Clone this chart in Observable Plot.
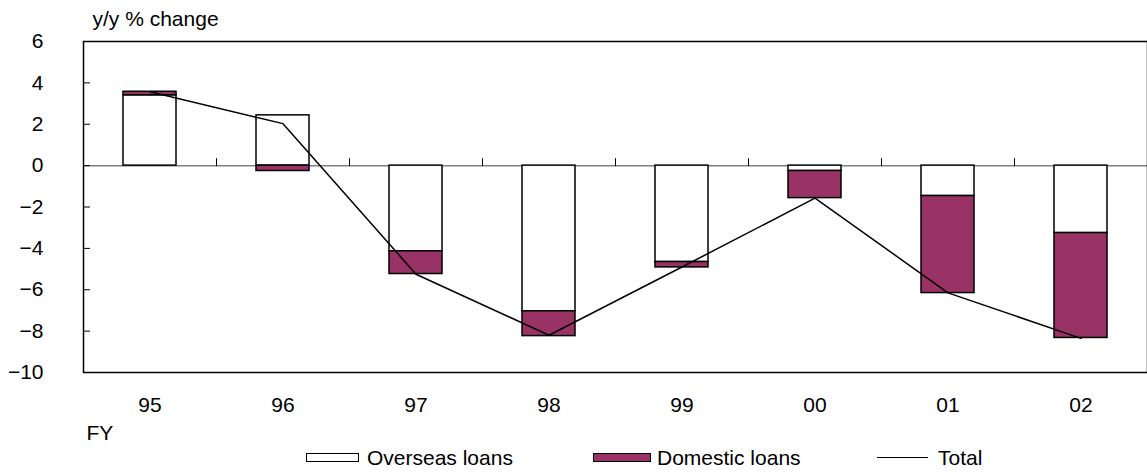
<!DOCTYPE html>
<html>
<head>
<meta charset="utf-8">
<script src="https://cdn.jsdelivr.net/npm/d3@7"></script>
<script src="https://cdn.jsdelivr.net/npm/@observablehq/plot@0.6"></script>
<style>
  html, body { margin: 0; padding: 0; background: #fff; }
  #wrap { position: relative; width: 1147px; height: 472px; font-family: "Liberation Sans", Arial, sans-serif; font-size: 21px; color: #000; }
  .lg { position: absolute; line-height: 21px; white-space: nowrap; }
  .box { position: absolute; box-sizing: border-box; border: 1.5px solid #000; }
  .ln { position: absolute; height: 0; border-top: 1.5px solid #000; }
</style>
</head>
<body>
<div id="wrap"></div>
<script>
const years = ["95", "96", "97", "98", "99", "00", "01", "02"];
const overseas = [3.40, 2.43, -4.14, -7.04, -4.66, -0.26, -1.47, -3.26];
const domestic = [0.17, -0.26, -1.10, -1.20, -0.26, -1.31, -4.69, -5.07];
const total = [3.57, 2.03, -5.25, -8.20, -4.90, -1.57, -6.15, -8.35];
const yTicks = [-10, -8, -6, -4, -2, 0, 2, 4, 6];
const seriesNames = ["Overseas loans", "Domestic loans"];
const seriesColors = ["#ffffff", "#993366"];

const rows = [];
years.forEach((y, i) => rows.push({year: y, series: seriesNames[0], value: overseas[i]}));
years.forEach((y, i) => rows.push({year: y, series: seriesNames[1], value: domestic[i]}));
const totals = years.map((y, i) => ({year: y, value: total[i]}));

const W = 1147, H = 446, mL = 83, mR = 0, mT = 41, mB = 74;
const step = (W - mL - mR) / years.length;
const fmt = d => (d < 0 ? "\u2212" + Math.abs(d) : String(d));
const upTick = {draw(ctx, l) { ctx.moveTo(0, 0); ctx.lineTo(0, -l); }};

const chart = Plot.plot({
  width: W, height: H,
  marginLeft: mL, marginRight: mR, marginTop: mT, marginBottom: mB,
  style: {fontFamily: "Liberation Sans, Arial, sans-serif", fontSize: "21px", color: "#000", background: "#fff", overflow: "visible"},
  x: {domain: years, paddingInner: 0.6, paddingOuter: 0.3, label: null},
  y: {domain: [-10, 6], label: null},
  color: {domain: seriesNames, range: seriesColors},
  marks: [
    Plot.ruleY([0], {stroke: "#808080", strokeWidth: 1.5}),
    Plot.barY(rows, Plot.stackY({x: "year", y: "value", fill: "series", stroke: "#000", strokeWidth: 1.5})),
    Plot.lineY(totals, {x: "year", y: "value", stroke: "#000", strokeWidth: 1.5}),
    Plot.vector(years.slice(1), {x: d => d, y: () => 0, length: 7, rotate: 0, anchor: "start", shape: upTick, stroke: "#000", strokeWidth: 1, dx: -step / 2}),
    Plot.frame({stroke: "#000", strokeWidth: 1.5}),
    Plot.axisY(yTicks, {anchor: "left", tickSize: 7, dx: 7, tickFormat: () => "", stroke: "#000"}),
    Plot.axisY(yTicks, {anchor: "left", tickSize: 0, tickPadding: 40, tickFormat: fmt, fontSize: 21}),
    Plot.axisX({anchor: "bottom", tickSize: 0, tickPadding: 25, fontSize: 21}),
    Plot.text(["y/y % change"], {frameAnchor: "top-left", textAnchor: "start", lineAnchor: "bottom", dx: 9, dy: -16, fontSize: 21}),
    Plot.text(["FY"], {frameAnchor: "bottom-left", textAnchor: "start", lineAnchor: "bottom", dx: 3, dy: 67, fontSize: 21})
  ]
});

const wrap = document.getElementById("wrap");
wrap.appendChild(chart);

// Legend
const legendItems = [
  {label: seriesNames[0], kind: "box", color: seriesColors[0], x0: 306, w: 53, tx: 367},
  {label: seriesNames[1], kind: "box", color: seriesColors[1], x0: 593, w: 58, tx: 657},
  {label: "Total", kind: "line", x0: 877, w: 51, tx: 938}
];
legendItems.forEach(it => {
  const m = document.createElement("div");
  if (it.kind === "box") {
    m.className = "box";
    m.style.left = it.x0 + "px"; m.style.top = "453px";
    m.style.width = it.w + "px"; m.style.height = "9px";
    m.style.background = it.color;
  } else {
    m.className = "ln";
    m.style.left = it.x0 + "px"; m.style.top = "457px";
    m.style.width = it.w + "px";
  }
  wrap.appendChild(m);
  const t = document.createElement("div");
  t.className = "lg";
  t.style.left = it.tx + "px"; t.style.top = "447px";
  t.textContent = it.label;
  wrap.appendChild(t);
});
</script>
</body>
</html>
